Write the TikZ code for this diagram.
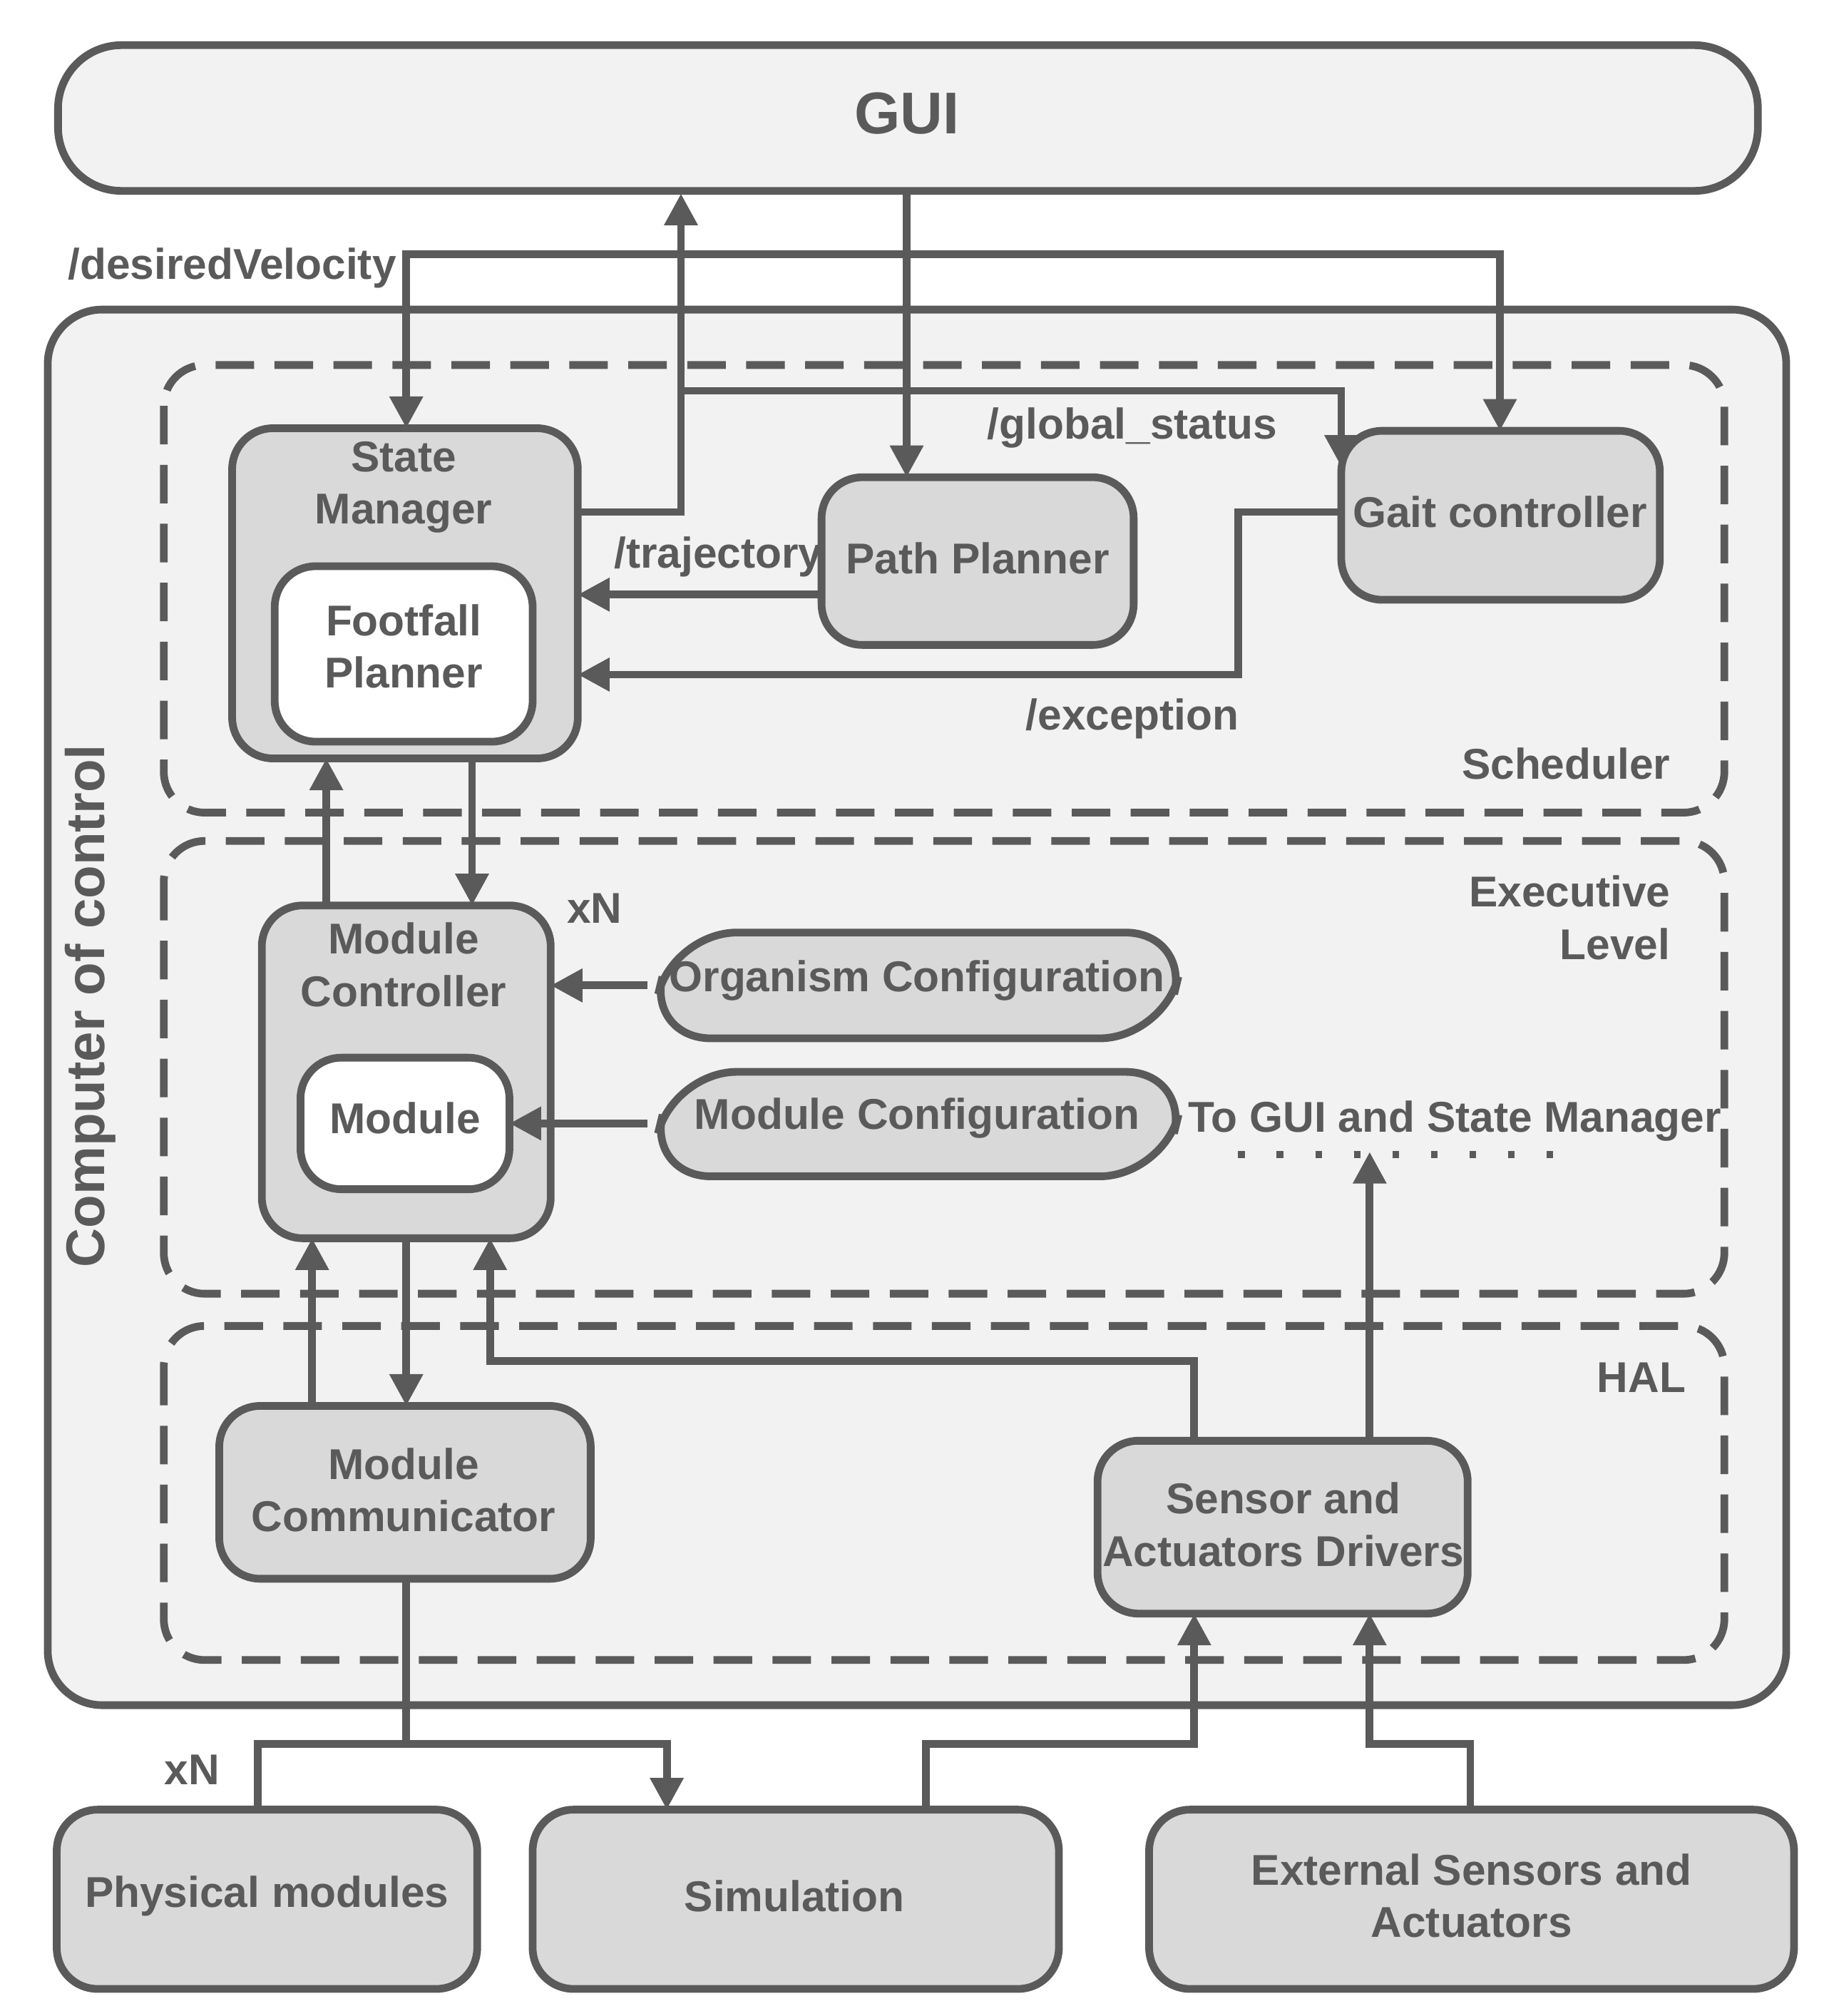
\documentclass[tikz,border=0pt]{standalone}
\usepackage{fontspec}
\setmainfont{Liberation Sans}
\usetikzlibrary{arrows.meta}
\definecolor{ln}{HTML}{5A5A5A}
\definecolor{bg}{HTML}{F2F2F2}
\definecolor{bx}{HTML}{D9D9D9}
\begin{document}
\begin{tikzpicture}[x=0.01cm,y=-0.01cm,
  line width=1.7pt, draw=ln, text=ln, font=\bfseries\fontsize{9.5}{11.5}\selectfont,
  box/.style={draw=ln, fill=bx, rounded corners=9pt},
  wbox/.style={draw=ln, fill=white, rounded corners=9pt},
  dsh/.style={draw=ln, dash pattern=on 8.5pt off 4.5pt, rounded corners=9pt, line width=1.7pt},
  arr/.style={draw=ln, line width=1.7pt, -{Triangle[length=7pt,width=7pt]}},
  con/.style={draw=ln, line width=1.7pt},
  lbl/.style={text=ln, align=center, inner sep=0pt}]
\useasboundingbox (0,0) rectangle (1414,1563);
\fill[white] (0,0) rectangle (1414,1563);
% GUI
\draw[box, fill=bg, rounded corners=14pt] (45,35) rectangle (1363,148);
\node[lbl, font=\bfseries\fontsize{13}{15}\selectfont] (gui) at (703,88) {GUI};
% outer
\draw[box, fill=bg, rounded corners=12pt] (37,240) rectangle (1385,1322);
\node[lbl, rotate=90, font=\bfseries\fontsize{12}{14}\selectfont] (coc) at (70,780) {Computer of control};
% dashed
\draw[dsh] (127,283) rectangle (1337,630);
\draw[dsh] (127,652) rectangle (1337,1003);
\draw[dsh] (127,1028) rectangle (1337,1287);
\node[lbl, anchor=east] (sch) at (1298,592) {Scheduler};
\node[lbl, anchor=north east, align=right] (exl) at (1298,676) {Executive\\Level};
\node[lbl, anchor=east] (hal) at (1310,1068) {HAL};
% nodes
\draw[box] (180,332) rectangle (448,588);
\node[lbl] (sm) at (313,378) {State\\Manager};
\draw[wbox] (213,439) rectangle (413,575);
\node[lbl] (fp) at (313,501) {Footfall\\Planner};
\draw[box] (637,370) rectangle (879,500);
\node[lbl] (pp) at (758,433) {Path Planner};
\draw[box] (1040,334) rectangle (1287,465);
\node[lbl] (gc) at (1163,397) {Gait controller};
\draw[box] (203,702) rectangle (427,960);
\node[lbl] (mc) at (313,748) {Module\\Controller};
\draw[wbox] (233,820) rectangle (395,922);
\node[lbl] (mod) at (314,867) {Module};
\draw[box, rounded corners=14pt] (502,805) -- (522,723) -- (922,723) -- (902,805) -- cycle;
\node[lbl] (oc) at (711,760) {Organism Configuration};
\draw[box, rounded corners=14pt] (502,912) -- (522,831) -- (922,831) -- (902,912) -- cycle;
\node[lbl] (mcf) at (711,867) {Module Configuration};
\draw[box] (170,1090) rectangle (458,1224);
\node[lbl] (mcom) at (313,1155) {Module\\Communicator};
\draw[box] (851,1117) rectangle (1138,1251);
\node[lbl] (sad) at (995,1182) {Sensor and\\Actuators Drivers};
\draw[box] (44,1403) rectangle (370,1542);
\node[lbl] (pm) at (207,1470) {Physical modules};
\draw[box] (413,1403) rectangle (821,1542);
\node[lbl] (sim) at (616,1470) {Simulation};
\draw[box] (891,1403) rectangle (1391,1542);
\node[lbl] (ext) at (1141,1470) {External Sensors and\\Actuators};
% labels
\node[lbl] (dv) at (180,208) {/desiredVelocity};
\node[lbl] (gs) at (878,332) {/global\_status};
\node[lbl] (tr) at (557,432) {/trajectory};
\node[lbl] (ex) at (878,557) {/exception};
\node[lbl] (xn1) at (461,704) {xN};
\node[lbl] (xn2) at (149,1372) {xN};
\node[lbl] (tg) at (1128,869) {To GUI and State Manager};
\coordinate (j1) at (703,197);
% connectors
\draw[arr] (703,148) -- (703,370);
\draw[arr] (j1) -| (315,332);
\draw[arr] (j1) -| (1163,334);
\draw[arr] (448,397) -- (528,397) -- (528,150);
\draw[arr] (528,303) -- (1040,303) -- (1040,362);
\draw[arr] (637,461) -- (448,461);
\draw[arr] (1040,397) -- (960,397) -- (960,523) -- (448,523);
\draw[arr] (253,702) -- (253,588);
\draw[arr] (366,588) -- (366,702);
\draw[arr] (502,764) -- (427,764);
\draw[arr] (502,871) -- (395,871);
\draw[arr] (242,1090) -- (242,960);
\draw[arr] (315,960) -- (315,1090);
\draw[arr] (926,1117) -- (926,1055) -- (380,1055) -- (380,960);
\draw[arr] (1062,1117) -- (1062,893);
\draw[con, dotted, line width=1.5pt, dash pattern=on 1.5pt off 7pt] (960,895) -- (1205,895);
\draw[con] (315,1224) -- (315,1352) -- (200,1352) -- (200,1403);
\draw[arr] (315,1352) -- (517,1352) -- (517,1403);
\draw[arr] (718,1403) -- (718,1352) -- (926,1352) -- (926,1251);
\draw[arr] (1140,1403) -- (1140,1352) -- (1062,1352) -- (1062,1251);
\end{tikzpicture}
\end{document}
